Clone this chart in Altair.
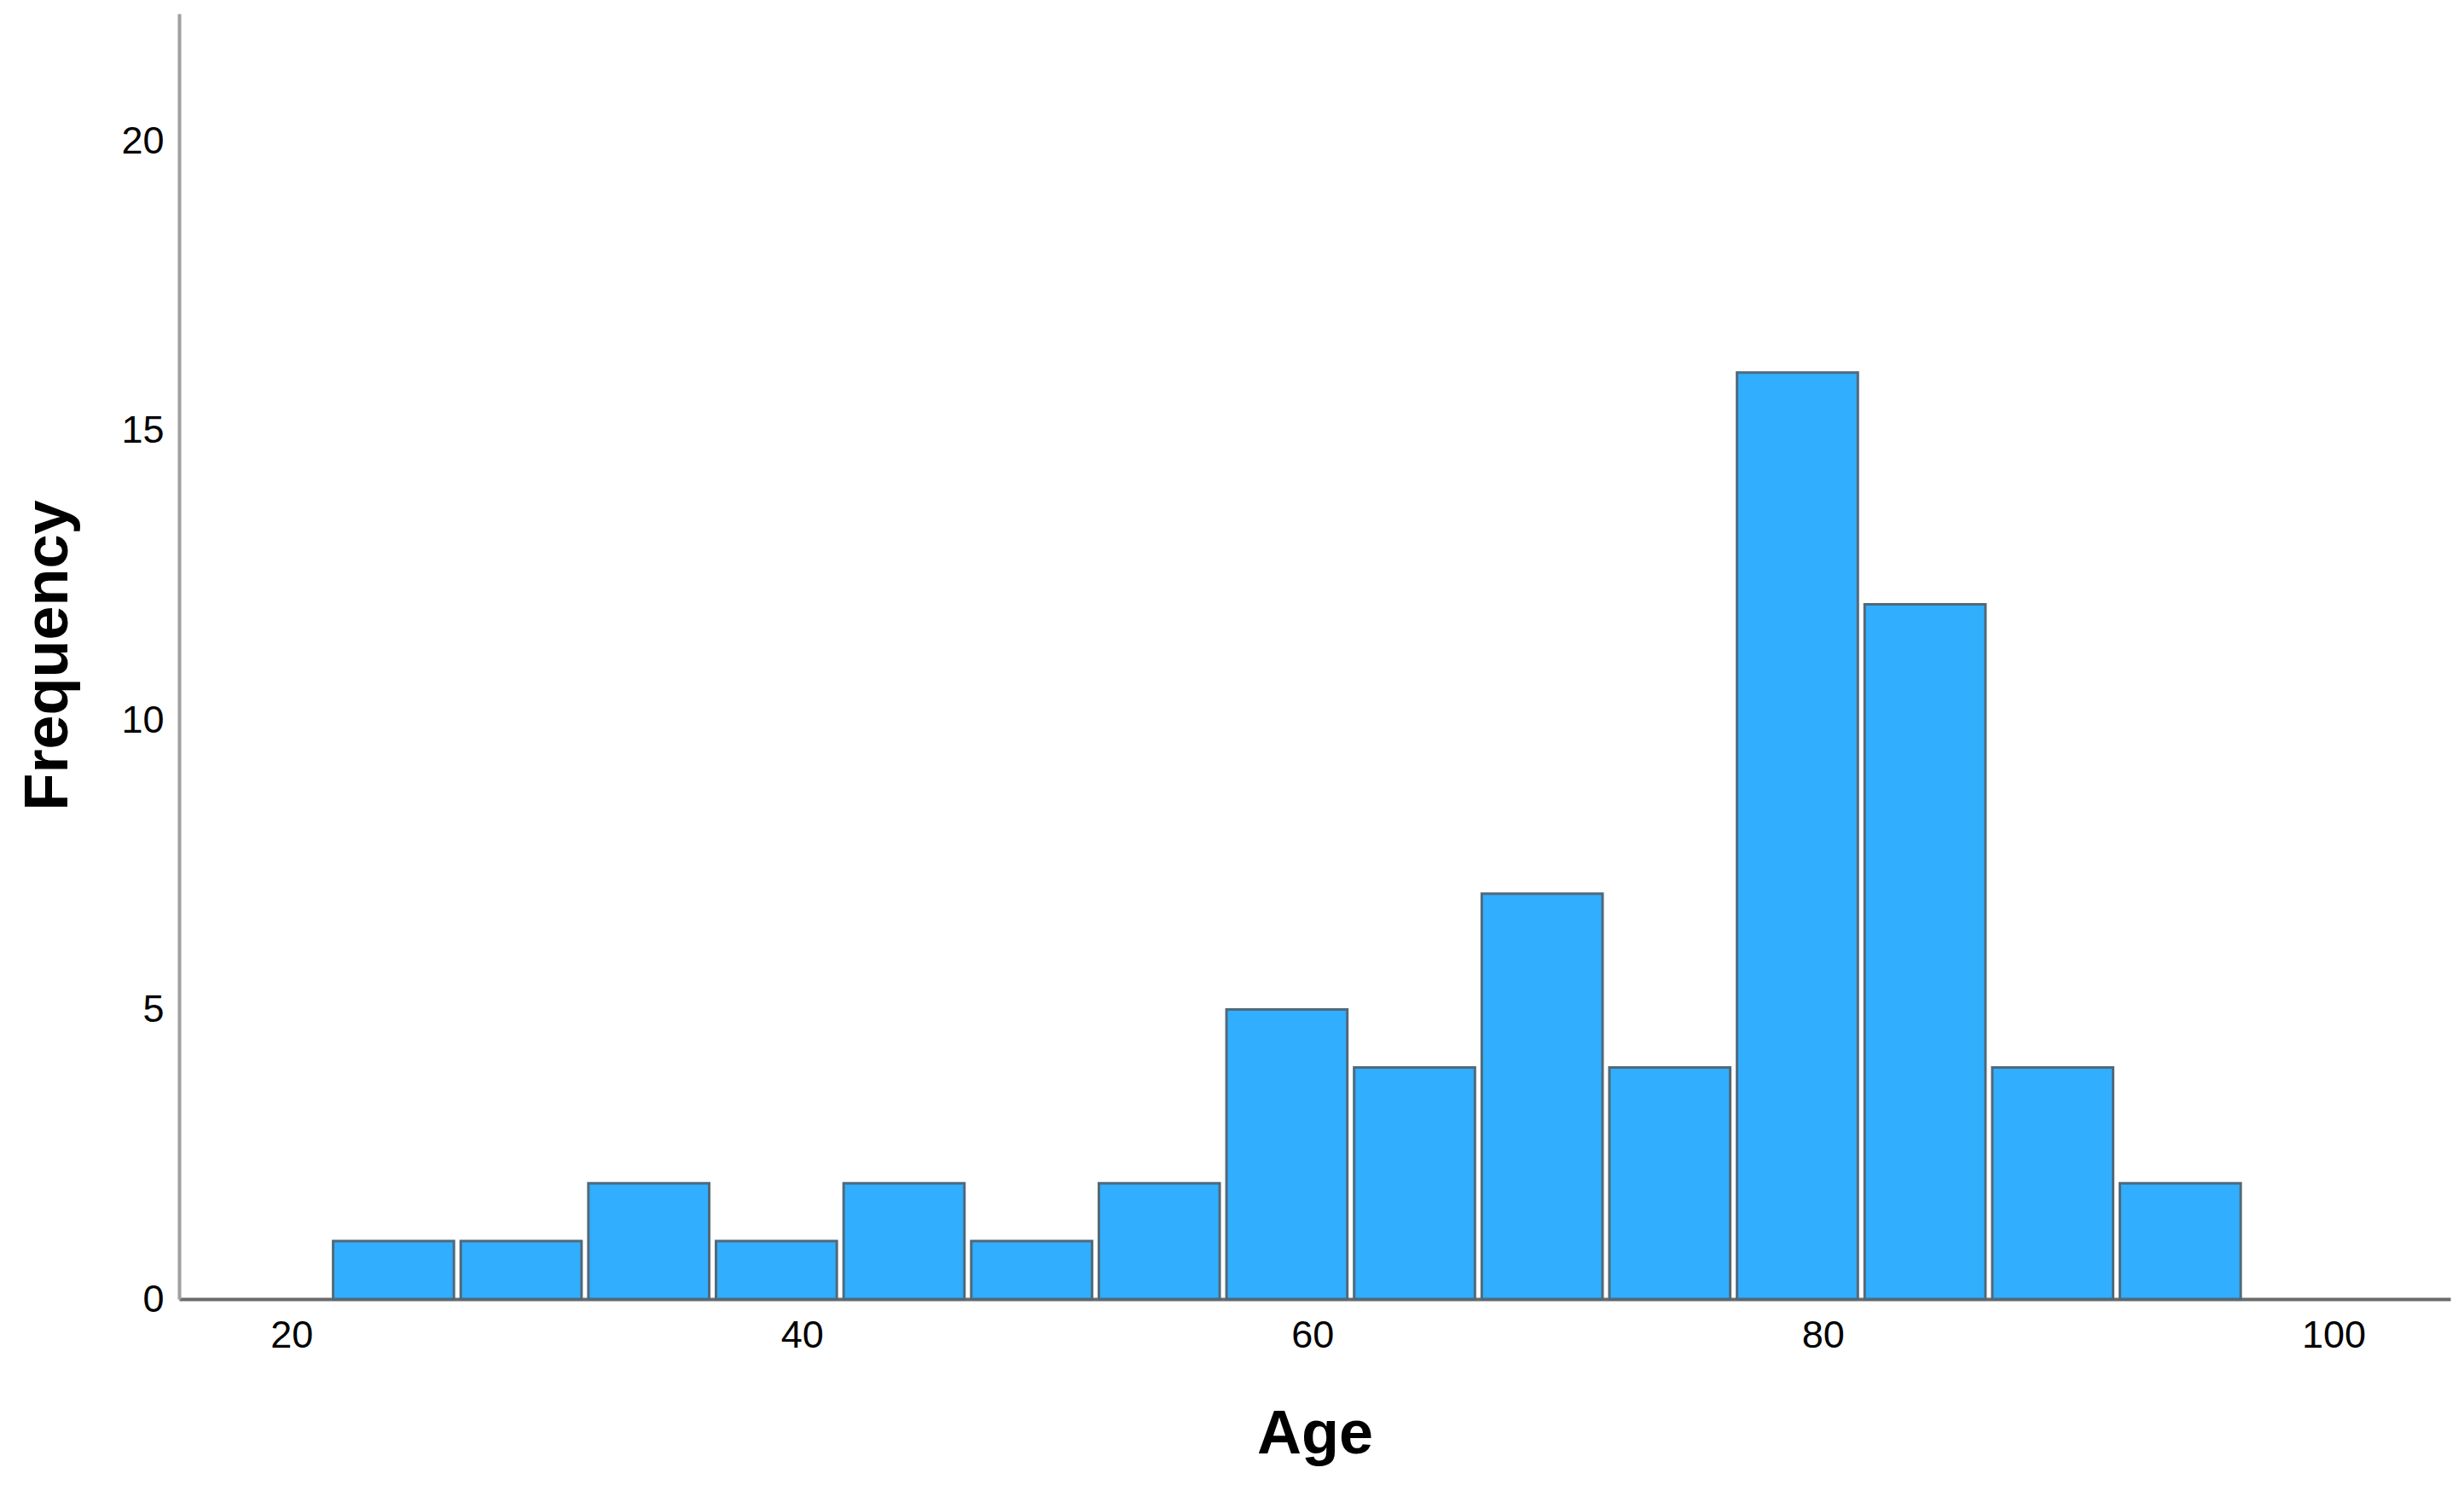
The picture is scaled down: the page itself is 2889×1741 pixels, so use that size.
import altair as alt
import pandas as pd

# Histogram bins (Age) and frequencies
bin_start = [21.5, 26.5, 31.5, 36.5, 41.5, 46.5, 51.5, 56.5, 61.5, 66.5, 71.5, 76.5, 81.5, 86.5, 91.5]
bin_end = [26.5, 31.5, 36.5, 41.5, 46.5, 51.5, 56.5, 61.5, 66.5, 71.5, 76.5, 81.5, 86.5, 91.5, 96.5]
frequency = [1, 1, 2, 1, 2, 1, 2, 5, 4, 7, 4, 16, 12, 4, 2]

x_ticks = [20, 40, 60, 80, 100]
y_ticks = [0, 5, 10, 15, 20]

df = pd.DataFrame({"start": bin_start, "end": bin_end, "freq": frequency})

FONT = "Liberation Sans"

chart = (
    alt.Chart(df)
    .mark_rect(
        fill="#31aefd",
        stroke="#51697a",
        strokeWidth=3,
        xOffset=4,
        x2Offset=-4,
    )
    .encode(
        x=alt.X(
            "start:Q",
            scale=alt.Scale(domain=[15.6, 104.58], nice=False, zero=False),
            axis=alt.Axis(
                values=x_ticks,
                format="d",
                title="Age",
                grid=False,
                ticks=False,
                tickSize=0,
                labelPadding=20,
                labelFont=FONT,
                labelFontSize=45,
                labelColor="#000000",
                labelFlush=False,
                domainColor="#6b6b6b",
                domainWidth=4,
                titleFont=FONT,
                titleFontSize=72,
                titleFontWeight="bold",
                titleColor="#000000",
                titleBaseline="alphabetic",
                titleY=180,
            ),
        ),
        x2="end:Q",
        y=alt.Y(
            "freq:Q",
            scale=alt.Scale(domain=[0, 22.2], nice=False),
            axis=alt.Axis(
                values=y_ticks,
                format="d",
                title="Frequency",
                grid=False,
                ticks=False,
                tickSize=0,
                labelPadding=18,
                labelFont=FONT,
                labelFontSize=45,
                labelColor="#000000",
                domainColor="#a0a0a0",
                domainWidth=4,
                titleFont=FONT,
                titleFontSize=72,
                titleFontWeight="bold",
                titleColor="#000000",
                titleBaseline="alphabetic",
                titleX=-132,
                titleY=752,
            ),
        ),
        y2=alt.datum(0),
    )
    .properties(
        width=2663,
        height=1507,
        autosize="none",
        padding={"left": 202, "top": 8, "right": 8, "bottom": 210},
        background="white",
    )
    .configure_view(strokeWidth=0)
)

chart.save("out.html", embed_options={"renderer": "svg", "actions": False})
